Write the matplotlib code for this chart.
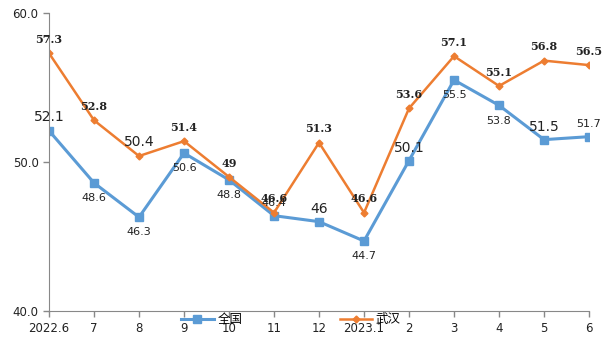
import matplotlib.pyplot as plt
import numpy as np

# категории и значения
months = ['2022.6', '7', '8', '9', '10', '11', '12', '2023.1', '2', '3', '4', '5', '6']
quanguo = [52.1, 48.6, 46.3, 50.6, 48.8, 46.4, 46, 44.7, 50.1, 55.5, 53.8, 51.5, 51.7]
wuhan = [57.3, 52.8, 50.4, 51.4, 49, 46.6, 51.3, 46.6, 53.6, 57.1, 55.1, 56.8, 56.5]
quanguo_txt = ['52.1', '48.6', '46.3', '50.6', '48.8', '46.4', '46', '44.7', '50.1', '55.5', '53.8', '51.5', '51.7']
wuhan_txt = ['57.3', '52.8', '50.4', '51.4', '49', '46.6', '51.3', '46.6', '53.6', '57.1', '55.1', '56.8', '56.5']

blue = '#5B9BD5'
orange = '#ED7D31'

fig = plt.figure(figsize=(6.05, 3.4), dpi=100)
ax = fig.add_axes([0.081, 0.085, 0.8926, 0.877])
x = np.arange(len(months))

ax.plot(x, quanguo, color=blue, lw=2.2, marker='s', ms=6, label='全国')
ax.plot(x, wuhan, color=orange, lw=1.8, marker='D', ms=3.5, label='武汉')

# подписи: синие (сверху/снизу, крупные или мелкие)
blue_up = {0, 5, 6, 8, 11, 12}
blue_big = {0, 6, 8, 11}
for i, (v, t) in enumerate(zip(quanguo, quanguo_txt)):
    dy = 9 if i in blue_up else -11
    if i == 0:
        dy = 10
    size = 10 if i in blue_big else 8
    ax.annotate(t, (x[i], v), xytext=(0, dy), textcoords='offset points',
                ha='center', va='center', fontsize=size, color='#222222',
                family='DejaVu Sans')

for i, (v, t) in enumerate(zip(wuhan, wuhan_txt)):
    if i == 2:
        ax.annotate(t, (x[i], v), xytext=(0, 10), textcoords='offset points',
                    ha='center', va='center', fontsize=10, color='#222222',
                    family='DejaVu Sans')
    else:
        ax.annotate(t, (x[i], v), xytext=(0, 10), textcoords='offset points',
                    ha='center', va='center', fontsize=8, color='#222222',
                    family='DejaVu Serif', fontweight='bold')

ax.set_xlim(0, len(months) - 1)
ax.set_ylim(40, 60)
ax.set_yticks([40, 50, 60])
ax.set_yticklabels(['40.0', '50.0', '60.0'])
ax.set_xticks(x)
ax.set_xticklabels(months)
ax.tick_params(labelsize=8.5, color='#888888', length=4, width=1, labelcolor='#222222')
for s in ['top', 'right']:
    ax.spines[s].set_visible(False)
for s in ['left', 'bottom']:
    ax.spines[s].set_color('#888888')

leg = fig.legend(loc='center', bbox_to_anchor=(291 / 605, 1 - 320 / 340), ncol=2, frameon=False,
                 prop={'family': ['Noto Sans CJK SC', 'DejaVu Sans'], 'size': 9},
                 columnspacing=7.8, handlelength=2.6, handletextpad=0.3)

fig.savefig('out.png', dpi=100)
